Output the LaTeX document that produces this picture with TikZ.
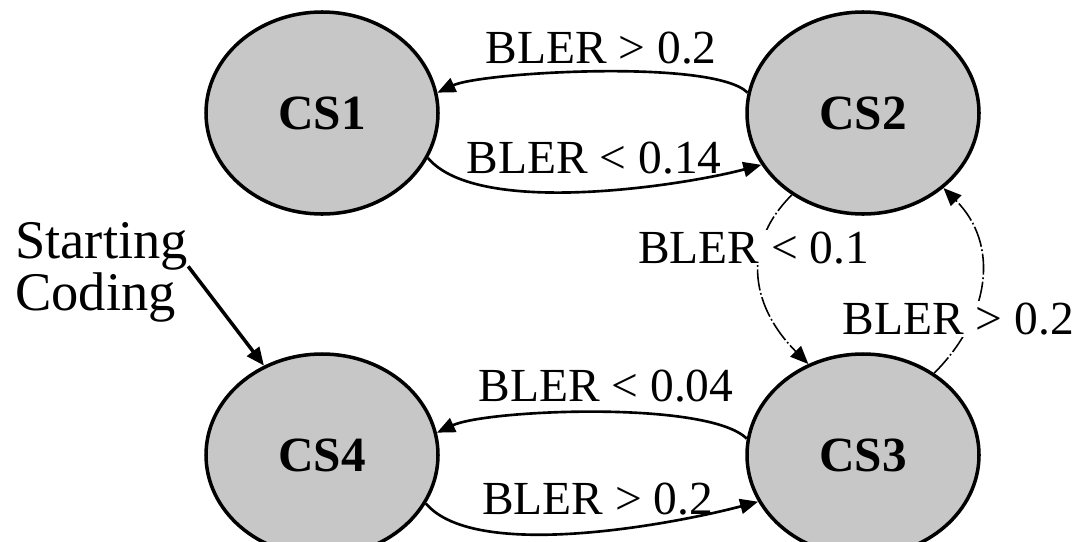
\documentclass[tikz,border=0pt]{standalone}
\usepackage{fontspec}
\setmainfont{Liberation Serif}
\usetikzlibrary{shapes.geometric,arrows.meta}

\begin{document}
\begin{tikzpicture}[state/.style={ellipse, draw, line width=2pt, fill=black!22, minimum width=46.4mm, minimum height=40.4mm, inner sep=0pt, font=\fontsize{28}{33}\selectfont\bfseries},
  cond/.style={inner sep=1pt, font=\fontsize{27}{32}\selectfont},
  thinline/.style={line width=0.9pt, dash pattern=on 12pt off 1.5pt on 1pt off 1.5pt},
  >={Triangle[length=3.6mm, width=3mm]},
  node distance=108.2mm]
  \useasboundingbox (0,0) rectangle (21.68,-10.82);
  \node[state] (cs1) at (6.44,-2.26) {CS1};
  \node[state, right of=cs1] (cs2) {CS2};
  \node[state, below of=cs1, node distance=68.4mm] (cs4) {CS4};
  \node[state, right of=cs4] (cs3) {CS3};
  \node[anchor=north west, inner sep=0pt, align=left, font=\fontsize{31}{27}\selectfont] (start) at (0.3,-4.45) {Starting\\Coding};

  \draw[->, line width=2pt] (start.4) -- (cs4.123);
  \draw[->, line width=1.5pt] (cs2.170) to[out=135, in=25, looseness=0.4] node[cond, above=2.8pt, xshift=1mm] {BLER > 0.2} (cs1.10);
  \draw[->, line width=1.5pt] (cs1.-23) to[out=-50, in=195, looseness=0.6] node[cond, above=8pt, xshift=1.8mm] {BLER < 0.14} (cs2.207);
  \draw[->, line width=1.5pt] (cs3.172) to[out=135, in=25, looseness=0.45] node[cond, above=3.9pt, xshift=2mm] {BLER < 0.04} (cs4.11);
  \draw[->, line width=1.5pt] (cs4.-25) to[out=-50, in=195, looseness=0.6] node[cond, above=8pt, xshift=3mm] {BLER > 0.2} (cs3.204);
  \draw[->, thinline] (cs2.229) to[out=225, in=135, looseness=1.15] node[cond, fill=white, pos=0.35, xshift=-1.2mm, yshift=3.4pt] {BLER < 0.1} (cs3.121);
  \draw[->, thinline] (cs3.49) to[out=45, in=-45, looseness=1.1] node[cond, fill=white, pos=0.3, xshift=-2.7mm] {BLER > 0.2} (cs2.-43);
\end{tikzpicture}
\end{document}
